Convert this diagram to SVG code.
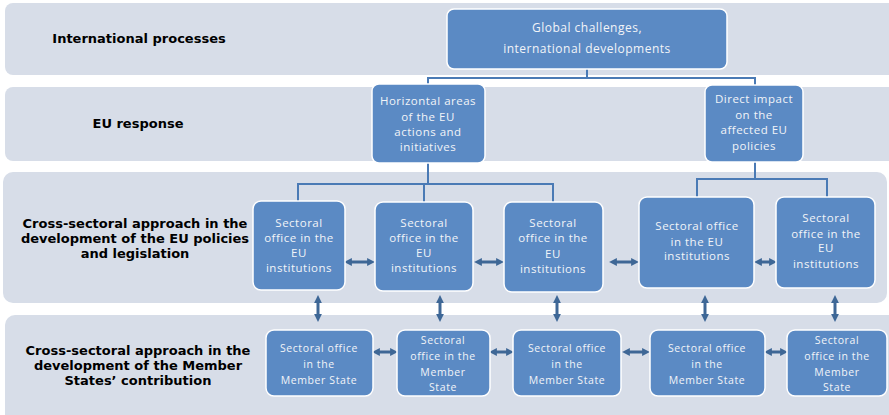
<svg xmlns="http://www.w3.org/2000/svg" width="889" height="415" viewBox="0 0 889 415">
<defs>
<style>
.band{fill:#d7dde8;}
.node{fill:#5b8ac4;stroke:#ffffff;stroke-width:1.5;}
.lbl{font-family:"DejaVu Sans",Verdana,sans-serif;font-weight:bold;font-size:13px;fill:#000;text-anchor:middle;}
.nt{font-family:"Open Sans","Liberation Sans",sans-serif;font-size:11.5px;letter-spacing:0.5px;fill:#f2f4f8;text-anchor:middle;}
.ms{font-size:10.5px;letter-spacing:0.6px;}
.conn{fill:none;stroke:#4a7ab5;stroke-width:2;}
.arr{fill:none;stroke:#3e6796;stroke-width:3;marker-start:url(#ah);marker-end:url(#ah);}
</style>
<marker id="ah" viewBox="0 0 10 10" refX="5" refY="5" markerWidth="2.6" markerHeight="2.6" orient="auto-start-reverse" markerUnits="strokeWidth">
<path d="M0,0 L10,5 L0,10 z" fill="#3e6796"/>
</marker>
</defs>
<rect width="889" height="415" fill="#ffffff"/>
<g id="bands">
<rect class="band" x="5" y="3" width="895" height="72" rx="8"/>
<rect class="band" x="5" y="87" width="895" height="74" rx="8"/>
<rect class="band" x="3" y="172" width="884" height="131" rx="10"/>
<rect class="band" x="5" y="315" width="895" height="110" rx="10"/>
</g>
<g id="row-labels">
<text class="lbl" x="139" y="43">International processes</text>
<text class="lbl" x="138" y="128">EU response</text>
<text class="lbl" x="135" y="228">Cross-sectoral approach in the</text>
<text class="lbl" x="135" y="243">development of the EU policies</text>
<text class="lbl" x="135" y="258">and legislation</text>
<text class="lbl" x="138" y="355">Cross-sectoral approach in the</text>
<text class="lbl" x="138" y="370">development of the Member</text>
<text class="lbl" x="138" y="385">States’ contribution</text>
</g>
<g id="connectors">
<path class="conn" d="M587,69 V78 M428,84 V78 H755 V85"/>
<path class="conn" d="M428,163 V184 M298,201 V184 H553 V202 M424,184 V202"/>
<path class="conn" d="M755,162 V179 M697,197 V179 H827 V197"/>
<line class="arr" x1="348" y1="262" x2="371" y2="262"/>
<line class="arr" x1="478" y1="262" x2="500" y2="262"/>
<line class="arr" x1="613" y1="262" x2="635" y2="262"/>
<line class="arr" x1="758" y1="262" x2="773" y2="262"/>
<line class="arr" x1="318" y1="299" x2="318" y2="318"/>
<line class="arr" x1="440" y1="299" x2="440" y2="318"/>
<line class="arr" x1="557" y1="299" x2="557" y2="318"/>
<line class="arr" x1="705" y1="299" x2="705" y2="318"/>
<line class="arr" x1="835" y1="299" x2="835" y2="318"/>
<line class="arr" x1="376" y1="352" x2="394" y2="352"/>
<line class="arr" x1="493" y1="352" x2="510" y2="352"/>
<line class="arr" x1="626" y1="352" x2="646" y2="352"/>
<line class="arr" x1="768" y1="352" x2="784" y2="352"/>
</g>
<g id="global">
<rect class="node" x="447" y="9" width="280" height="60" rx="7"/>
<text class="nt" x="587" y="32" style="font-size:12px">Global challenges,</text>
<text class="nt" x="587" y="53" style="font-size:12px">international developments</text>
</g>
<g id="horizontal">
<rect class="node" x="372" y="84" width="113" height="79" rx="7"/>
<text class="nt" x="428" y="105">Horizontal areas</text>
<text class="nt" x="428" y="121">of the EU</text>
<text class="nt" x="428" y="136">actions and</text>
<text class="nt" x="428" y="151">initiatives</text>
</g>
<g id="direct">
<rect class="node" x="705" y="85" width="98" height="77" rx="7"/>
<text class="nt" x="754" y="103">Direct impact</text>
<text class="nt" x="754" y="119">on the</text>
<text class="nt" x="754" y="134">affected EU</text>
<text class="nt" x="754" y="150">policies</text>
</g>
<g id="eu1">
<rect class="node" x="253" y="201" width="92" height="89" rx="8"/>
<text class="nt" x="299" y="227">Sectoral</text>
<text class="nt" x="299" y="242">office in the</text>
<text class="nt" x="299" y="257">EU</text>
<text class="nt" x="299" y="272">institutions</text>
</g>
<g id="eu2">
<rect class="node" x="375" y="202" width="98" height="89" rx="8"/>
<text class="nt" x="424" y="227">Sectoral</text>
<text class="nt" x="424" y="242">office in the</text>
<text class="nt" x="424" y="257">EU</text>
<text class="nt" x="424" y="272">institutions</text>
</g>
<g id="eu3">
<rect class="node" x="504" y="202" width="99" height="90" rx="8"/>
<text class="nt" x="553" y="227">Sectoral</text>
<text class="nt" x="553" y="242">office in the</text>
<text class="nt" x="553" y="258">EU</text>
<text class="nt" x="553" y="273">institutions</text>
</g>
<g id="eu4">
<rect class="node" x="639" y="197" width="115" height="91" rx="8"/>
<text class="nt" x="697" y="230">Sectoral office</text>
<text class="nt" x="697" y="246">in the EU</text>
<text class="nt" x="697" y="260">institutions</text>
</g>
<g id="eu5">
<rect class="node" x="776" y="197" width="99" height="91" rx="8"/>
<text class="nt" x="826" y="222">Sectoral</text>
<text class="nt" x="826" y="238">office in the</text>
<text class="nt" x="826" y="252">EU</text>
<text class="nt" x="826" y="268">institutions</text>
</g>
<g id="ms1">
<rect class="node" x="266" y="330" width="107" height="66" rx="8"/>
<text class="nt ms" x="319" y="352">Sectoral office</text>
<text class="nt ms" x="319" y="368">in the</text>
<text class="nt ms" x="319" y="384">Member State</text>
</g>
<g id="ms2">
<rect class="node" x="397" y="330" width="93" height="66" rx="8"/>
<text class="nt ms" x="443" y="344">Sectoral</text>
<text class="nt ms" x="443" y="360">office in the</text>
<text class="nt ms" x="443" y="376">Member</text>
<text class="nt ms" x="443" y="391">State</text>
</g>
<g id="ms3">
<rect class="node" x="513" y="330" width="108" height="66" rx="8"/>
<text class="nt ms" x="567" y="352">Sectoral office</text>
<text class="nt ms" x="567" y="368">in the</text>
<text class="nt ms" x="567" y="384">Member State</text>
</g>
<g id="ms4">
<rect class="node" x="650" y="330" width="115" height="66" rx="8"/>
<text class="nt ms" x="707" y="352">Sectoral office</text>
<text class="nt ms" x="707" y="368">in the</text>
<text class="nt ms" x="707" y="384">Member State</text>
</g>
<g id="ms5">
<rect class="node" x="787" y="330" width="100" height="66" rx="8"/>
<text class="nt ms" x="837" y="344">Sectoral</text>
<text class="nt ms" x="837" y="360">office in the</text>
<text class="nt ms" x="837" y="376">Member</text>
<text class="nt ms" x="837" y="391">State</text>
</g>
</svg>
